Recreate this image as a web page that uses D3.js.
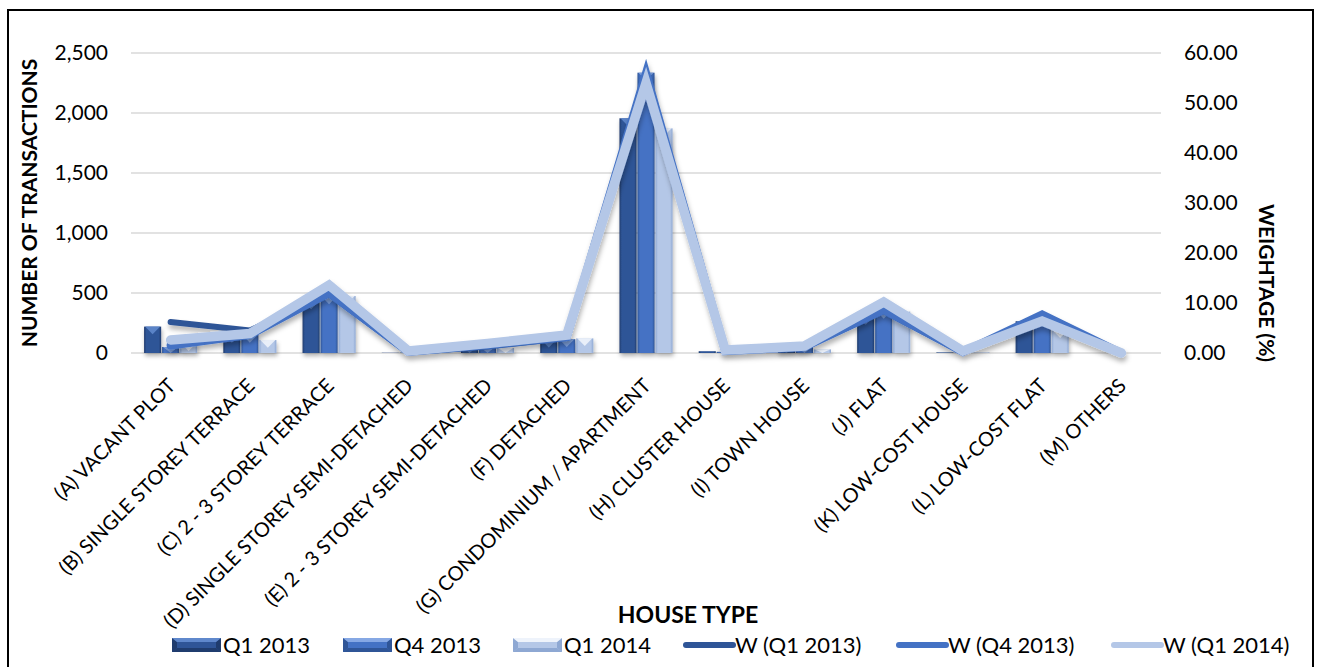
<!DOCTYPE html>
<html><head><meta charset="utf-8">
<script src="https://cdn.jsdelivr.net/npm/d3@7"></script>
<style>
body{margin:0;background:#fff;}
svg{display:block;font-family:Lato,"Open Sans",sans-serif;}
</style>
</head><body>
<svg id="c" width="1317" height="667"></svg>
<script>
const categories = ["(A) VACANT PLOT","(B) SINGLE STOREY TERRACE","(C) 2 - 3 STOREY TERRACE","(D) SINGLE STOREY SEMI-DETACHED","(E) 2 - 3 STOREY SEMI-DETACHED","(F) DETACHED","(G) CONDOMINIUM / APARTMENT","(H) CLUSTER HOUSE","(I) TOWN HOUSE","(J) FLAT","(K) LOW-COST HOUSE","(L) LOW-COST FLAT","(M) OTHERS"];
const barSeries = ["Q1 2013","Q4 2013","Q1 2014"];
const lineSeries = ["W (Q1 2013)","W (Q4 2013)","W (Q1 2014)"];
const q1_2013 = [220,150,428,2,50,110,1956,15,40,300,5,265,0];
const q4_2013 = [50,150,470,3,50,115,2336,10,50,350,3,290,0];
const q1_2014 = [80,108,475,2,42,122,1872,5,30,345,5,190,0];
const w_q1_2013 = [6.2,4.5,11.8,0.1,1.3,3.0,53.5,0.4,1.2,8.4,0.1,7.4,0.0];
const w_q4_2013 = [1.5,3.6,12.0,0.2,1.6,3.2,56.0,0.4,1.2,8.6,0.2,7.7,0.0];
const w_q1_2014 = [2.6,3.9,13.6,0.4,1.9,3.6,54.0,0.6,1.4,10.2,0.4,6.4,0.0];
const leftTicks = [0,500,1000,1500,2000,2500];
const rightTicks = [0,10,20,30,40,50,60];

const barVals = [q1_2013,q4_2013,q1_2014];
const lineVals = [w_q1_2013,w_q4_2013,w_q1_2014];
const barBase = ["#2F5597","#4472C4","#B4C7E7"];
const barEdge = ["#1F3C6E","#2F5597","#8EA8D3"];
const barTop  = ["#5F88CC","#86A8E4","#EEF3FB"];
const lineCol = ["#2F5597","#4472C4","#B4C7E7"];
const lineW = [6,8,9.5];

const svg = d3.select("#c");
const defs = svg.append("defs");
barSeries.forEach((s,i)=>{
  const g = defs.append("linearGradient").attr("id","bg"+i).attr("x1","0").attr("x2","1").attr("y1","0").attr("y2","0");
  g.append("stop").attr("offset","0%").attr("stop-color",barEdge[i]);
  g.append("stop").attr("offset","14%").attr("stop-color",barBase[i]);
  g.append("stop").attr("offset","86%").attr("stop-color",barBase[i]);
  g.append("stop").attr("offset","100%").attr("stop-color",barEdge[i]);
});
const f = defs.append("filter").attr("id","sh").attr("x","-20%").attr("y","-20%").attr("width","140%").attr("height","160%");
f.append("feDropShadow").attr("dx",1).attr("dy",4).attr("stdDeviation",2.5).attr("flood-color","#000").attr("flood-opacity",0.3);
const f2 = defs.append("filter").attr("id","bsh").attr("x","-20%").attr("y","-20%").attr("width","140%").attr("height","140%");
f2.append("feDropShadow").attr("dx",1).attr("dy",3).attr("stdDeviation",2).attr("flood-color","#000").attr("flood-opacity",0.3);

// frame
svg.append("rect").attr("x",8).attr("y",10).attr("width",1305).attr("height",680)
  .attr("fill","none").attr("stroke","#000").attr("stroke-width",2);

const x = d3.scaleBand().domain(categories).range([131,1161]);
const bw = x.bandwidth();
const xs = d3.scaleBand().domain(barSeries).range([bw*0.165,bw*0.835]).paddingInner(0.05);
const yL = d3.scaleLinear().domain([0,2500]).range([353,53]);
const yR = d3.scaleLinear().domain([0,60]).range([353,53]);

// gridlines
svg.append("g").selectAll("line").data(leftTicks).join("line")
  .attr("x1",131).attr("x2",1161).attr("y1",d=>yL(d)).attr("y2",d=>yL(d))
  .attr("stroke","#D9D9D9").attr("stroke-width",1.5);

// axes
const axL = svg.append("g").attr("transform","translate(131,0)")
  .call(d3.axisLeft(yL).tickValues(leftTicks).tickFormat(d3.format(",")).tickSize(0).tickPadding(23));
const axR = svg.append("g").attr("transform","translate(1161,0)")
  .call(d3.axisRight(yR).tickValues(rightTicks).tickFormat(d3.format(".2f")).tickSize(0).tickPadding(23));
[axL,axR].forEach(a=>{a.select(".domain").remove(); a.selectAll("text").attr("font-size",21).attr("fill","#000").attr("font-family","Lato");});

const axB = svg.append("g").attr("transform","translate(0,353)")
  .call(d3.axisBottom(x).tickSize(0));
axB.select(".domain").remove();
axB.selectAll("text").attr("font-size",20).attr("fill","#000").attr("font-family","Lato")
  .attr("text-anchor","end").attr("y",null).attr("dy",null)
  .attr("transform","translate(6,34) rotate(-45)");

// bars
const bars = svg.append("g").attr("filter","url(#bsh)");
barSeries.forEach((s,si)=>{
  const g = bars.append("g");
  const data = barVals[si].map((v,i)=>({c:categories[i],v}));
  g.selectAll("rect").data(data).join("rect")
    .attr("x",d=>x(d.c)+xs(s)).attr("width",xs.bandwidth())
    .attr("y",d=>yL(d.v)).attr("height",d=>yL(0)-yL(d.v))
    .attr("fill","url(#bg"+si+")");
  g.selectAll("path").data(data.filter(d=>yL(0)-yL(d.v)>3)).join("path")
    .attr("d",d=>{
      const x0=x(d.c)+xs(s), w=xs.bandwidth(), y0=yL(d.v);
      const h=Math.min(w*0.45, yL(0)-y0);
      return `M${x0+1},${y0}L${x0+w-1},${y0}L${x0+w/2},${y0+h}Z`;
    }).attr("fill",barTop[si]).attr("opacity",0.9);
});

// lines
const lg = svg.append("g").attr("filter","url(#sh)");
lineSeries.forEach((s,si)=>{
  const line = d3.line().x((d,i)=>x(categories[i])+bw/2).y(d=>yR(d));
  lg.append("path").datum(lineVals[si]).attr("d",line)
    .attr("fill","none").attr("stroke",lineCol[si]).attr("stroke-width",lineW[si])
    .attr("stroke-linejoin","miter").attr("stroke-miterlimit",10).attr("stroke-linecap","round");
});

// titles
svg.append("text").attr("transform","translate(37,203) rotate(-90)").attr("text-anchor","middle")
  .attr("font-size",21).attr("font-weight","bold").text("NUMBER OF TRANSACTIONS");
svg.append("text").attr("transform","translate(1259,283) rotate(90)").attr("text-anchor","middle")
  .attr("font-size",21).attr("font-weight","bold").text("WEIGHTAGE (%)");
svg.append("text").attr("x",688).attr("y",623).attr("text-anchor","middle")
  .attr("font-size",23).attr("font-weight","bold").text("HOUSE TYPE");

// legend
const legX = [172,343,513,683,896,1111];
const leg = svg.append("g");
barSeries.forEach((s,i)=>{
  const g = leg.append("g").attr("transform",`translate(${legX[i]},638)`);
  g.append("rect").attr("width",49).attr("height",14).attr("fill",barBase[i]);
  g.append("path").attr("d","M0,0L5,4L5,10L0,14Z").attr("fill",barEdge[i]);
  g.append("path").attr("d","M49,0L44,4L44,10L49,14Z").attr("fill",barEdge[i]);
  g.append("path").attr("d","M0,0L49,0L44,4L5,4Z").attr("fill",barTop[i]);
  g.append("path").attr("d","M0,14L49,14L44,10L5,10Z").attr("fill",barEdge[i]);
  g.append("text").attr("x",51).attr("y",15).attr("font-size",22).text(s);
});
lineSeries.forEach((s,i)=>{
  const g = leg.append("g").attr("transform",`translate(${legX[i+3]},645)`);
  g.append("line").attr("x1",3).attr("x2",50).attr("y1",0).attr("y2",0)
    .attr("stroke",lineCol[i]).attr("stroke-width",6).attr("stroke-linecap","round");
  g.append("text").attr("x",52).attr("y",8).attr("font-size",22).text(s);
});
</script>
</body></html>
